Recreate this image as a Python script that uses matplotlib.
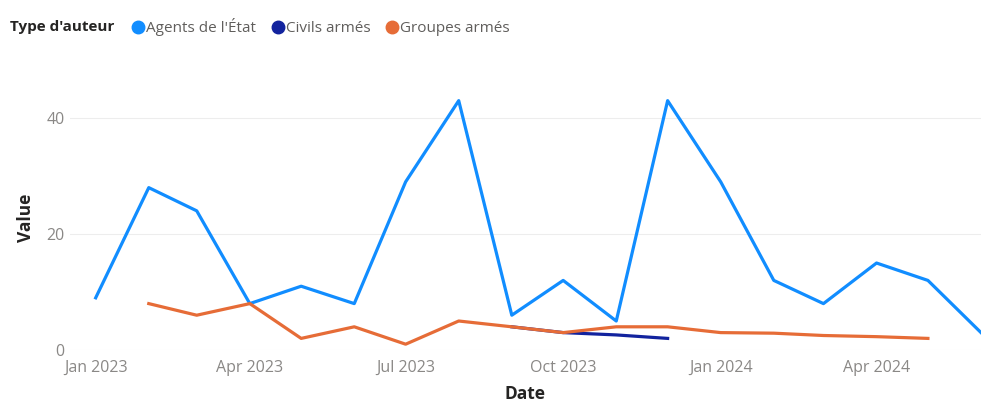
import pandas as pd
import matplotlib
matplotlib.use("Agg")
import matplotlib.pyplot as plt
import matplotlib.dates as mdates
from matplotlib.lines import Line2D

plt.rcParams['font.family'] = ['Open Sans', 'DejaVu Sans']

# monthly values
agents_dates = pd.date_range("2023-01-01", "2024-06-01", freq="MS")
agents_vals = [9, 28, 24, 8, 11, 8, 29, 43, 6, 12, 5, 43, 29, 12, 8, 15, 12, 3]

groupes_dates = pd.date_range("2023-02-01", "2024-05-01", freq="MS")
groupes_vals = [8, 6, 8, 2, 4, 1, 5, 4, 3, 4, 4, 3, 2.9, 2.5, 2.3, 2]

civils_dates = pd.date_range("2023-09-01", "2023-12-01", freq="MS")
civils_vals = [4, 3, 2.6, 2]

series_names = ["Agents de l'État", "Civils armés", "Groupes armés"]
colors = ["#118DFF", "#12239E", "#E66C37"]

fig = plt.figure(figsize=(9.81, 4.05), dpi=100)
ax = fig.add_axes([70 / 981, 55 / 405, 911 / 981, 265 / 405])

ax.plot(agents_dates, agents_vals, color=colors[0], lw=2.3)
ax.plot(civils_dates, civils_vals, color=colors[1], lw=2.3)
ax.plot(groupes_dates, groupes_vals, color=colors[2], lw=2.3)

ax.set_ylim(0, 45.7)
ax.set_yticks([0, 20, 40])
ax.set_xlim(pd.Timestamp("2022-12-17"), pd.Timestamp("2024-06-01"))
ax.xaxis.set_major_locator(mdates.MonthLocator(bymonth=[1, 4, 7, 10]))
ax.xaxis.set_major_formatter(mdates.DateFormatter("%b %Y"))

for s in ax.spines.values():
    s.set_visible(False)
ax.grid(axis='y', color='#EDEDED', lw=0.8)
ax.set_axisbelow(True)
ax.tick_params(length=0, labelsize=11.5, labelcolor='#8A8886')
ax.tick_params(axis='y', pad=4)
ax.tick_params(axis='x', pad=7)

ax.set_xlabel("Date", fontsize=12.5, fontweight='bold', color='#252423', labelpad=7)
ax.set_ylabel("Value", fontsize=12.5, fontweight='bold', color='#252423', labelpad=8)

fig.text(10 / 981, 1 - 27 / 405, "Type d'auteur", fontsize=11, fontweight='bold',
         color='#252423', va='center')
handles = [Line2D([], [], marker='o', ls='', color=c, markersize=9) for c in colors]
fig.legend(handles, series_names, loc='center left', bbox_to_anchor=(129 / 981, 1 - 27 / 405),
           ncol=3, frameon=False, fontsize=11, handletextpad=-0.1, columnspacing=0.85,
           handlelength=1.2, labelcolor='#605E5C', borderaxespad=0, borderpad=0)

fig.savefig("out.png", dpi=100)
